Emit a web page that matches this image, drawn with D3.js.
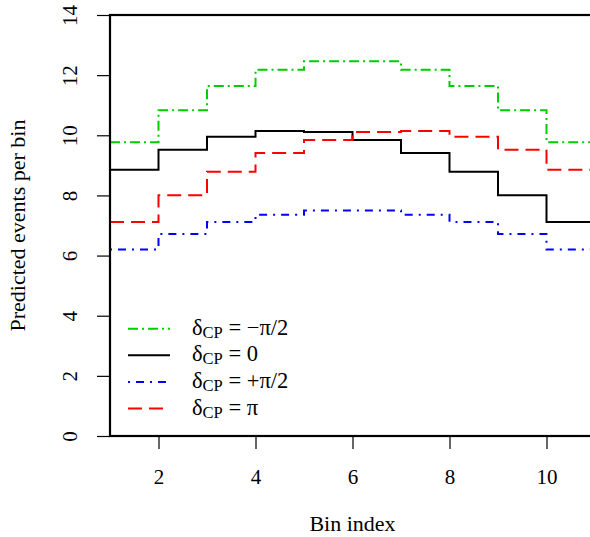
<!DOCTYPE html>
<html>
<head>
<meta charset="utf-8">
<script src="https://cdn.jsdelivr.net/npm/d3@7"></script>
<style>
  html, body { margin: 0; padding: 0; background: #fff; }
</style>
</head>
<body>
<svg id="chart" width="590" height="537"></svg>
<script>
// ---- Data ----
const bins = [1, 2, 3, 4, 5, 6, 7, 8, 9, 10];
const deltaMinusHalfPi = [9.77, 10.83, 11.64, 12.18, 12.46, 12.46, 12.18, 11.64, 10.83, 9.77];
const deltaZero        = [8.85, 9.52, 9.95, 10.14, 10.11, 9.84, 9.41, 8.79, 8.01, 7.12];
const deltaPlusHalfPi  = [6.20, 6.72, 7.12, 7.36, 7.50, 7.50, 7.36, 7.12, 6.72, 6.20];
const deltaPi          = [7.12, 8.01, 8.79, 9.41, 9.84, 10.11, 10.14, 9.95, 9.52, 8.85];
const xTicks = [2, 4, 6, 8, 10];
const yTicks = [0, 2, 4, 6, 8, 10, 12, 14];
const seriesNames = ["−π/2", "0", "+π/2", "π"];
const xLabel = "Bin index";
const yLabel = "Predicted events per bin";

// ---- Layout ----
const FONT = "Liberation Serif";
const mLeft = 110, mRight = 595, mTop = 15, mBottom = 436;
const svg = d3.select("#chart");

const x = d3.scaleLinear().domain([1, 11]).range([mLeft, mRight]);
const y = d3.scaleLinear().domain([0, 14]).range([mBottom, mTop]);

const series = [
  { values: deltaMinusHalfPi, color: "#00cd00", dash: "10,4,2,4", width: 2 },
  { values: deltaZero,        color: "#000000", dash: null,       width: 2 },
  { values: deltaPlusHalfPi,  color: "#0000ff", dash: "2,6,8,6",  width: 2 },
  { values: deltaPi,          color: "#ff0000", dash: "14,7",     width: 2 }
];

const line = d3.line()
  .x(d => x(d[0]))
  .y(d => y(d[1]))
  .curve(d3.curveStepAfter);

series.forEach(s => {
  const pts = bins.map((b, i) => [b, s.values[i]]);
  pts.push([bins[bins.length - 1] + 1, s.values[s.values.length - 1]]);
  svg.append("path")
    .datum(pts)
    .attr("d", line)
    .attr("fill", "none")
    .attr("stroke", s.color)
    .attr("stroke-width", s.width)
    .attr("stroke-dasharray", s.dash)
    .attr("stroke-linejoin", "miter")
    .attr("stroke-linecap", "butt");
});

// ---- Box ----
svg.append("rect")
  .attr("x", mLeft).attr("y", mTop)
  .attr("width", mRight - mLeft).attr("height", mBottom - mTop)
  .attr("fill", "none").attr("stroke", "#000").attr("stroke-width", 2.2);

// ---- Axes ----
const fs = 21;
const xAxis = svg.append("g")
  .attr("transform", `translate(0,${mBottom})`)
  .call(d3.axisBottom(x).tickValues(xTicks).tickSize(13).tickFormat(d3.format("d")));
xAxis.select(".domain").remove();
xAxis.selectAll(".tick line").attr("stroke", "#000").attr("stroke-width", 1.2);
xAxis.selectAll("text")
  .style("font-family", FONT).style("font-size", fs + "px").attr("fill", "#000")
  .attr("dy", null).attr("y", 48);

const yAxis = svg.append("g")
  .attr("transform", `translate(${mLeft},0)`)
  .call(d3.axisLeft(y).tickValues(yTicks).tickSize(13).tickFormat(d3.format("d")));
yAxis.select(".domain").remove();
yAxis.selectAll(".tick line").attr("stroke", "#000").attr("stroke-width", 1.2);
yAxis.selectAll("text")
  .style("font-family", FONT).style("font-size", fs + "px").attr("fill", "#000")
  .attr("text-anchor", "middle")
  .attr("dy", null)
  .attr("x", 0).attr("y", -33)
  .attr("transform", "rotate(-90)");

// ---- Axis titles ----
svg.append("text")
  .attr("x", x(6)).attr("y", 531)
  .attr("text-anchor", "middle")
  .style("font-family", FONT).style("font-size", "22px")
  .text(xLabel);

svg.append("text")
  .attr("transform", `translate(25,${(mTop + mBottom) / 2}) rotate(-90)`)
  .attr("text-anchor", "middle")
  .style("font-family", FONT).style("font-size", "22px")
  .text(yLabel);

// ---- Legend ----
const legY0 = 328.7, legDy = 26.6;
const leg = svg.append("g");
series.forEach((s, i) => {
  const yy = legY0 + i * legDy;
  leg.append("line")
    .attr("x1", 128).attr("x2", 170)
    .attr("y1", yy).attr("y2", yy)
    .attr("stroke", s.color)
    .attr("stroke-width", s.width)
    .attr("stroke-dasharray", s.dash);
  const t = leg.append("text")
    .attr("x", 192).attr("y", yy + 6)
    .style("font-family", FONT).style("font-size", "22.5px");
  t.append("tspan").text("δ");
  t.append("tspan").style("font-size", "16.5px").attr("dy", 3).text("CP");
  t.append("tspan").attr("dy", -3).text(" = " + seriesNames[i]);
});
</script>
</body>
</html>
